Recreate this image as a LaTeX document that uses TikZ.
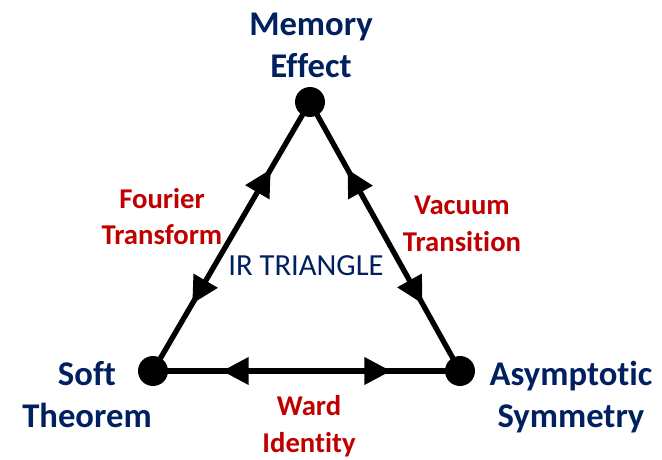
\documentclass[tikz,border=0pt]{standalone}
\usepackage{fontspec}
\setmainfont[Ligatures=NoCommon]{Carlito}
\usetikzlibrary{arrows.meta,decorations.markings}
\definecolor{navy}{HTML}{002060}
\definecolor{darkred}{HTML}{C00000}
\begin{document}
\begin{tikzpicture}[x=0.75pt,y=-0.75pt,
  vertexdot/.style={circle,fill=black,inner sep=0pt,minimum size=22.5pt},
  mainlabel/.style={font=\fontsize{26}{31.5}\selectfont\bfseries,text=navy,align=center,anchor=base,inner sep=0pt},
  edgelabel/.style={font=\fontsize{21.5}{27.75}\selectfont\bfseries,text=darkred,align=center,anchor=base,inner sep=0pt},
  titlelabel/.style={font=\fontsize{23}{27}\selectfont,text=navy,anchor=base,inner sep=0pt},
  twoway/.style={line width=4pt,postaction={decorate},decoration={markings,
     mark=at position #1 with {\arrowreversed{Triangle[length=20pt,width=20pt]}},
     mark=at position 1-#1 with {\arrow{Triangle[length=20pt,width=20pt]}}}},
  twoway/.default=0.25
]
\useasboundingbox (0,0) rectangle (662,460);
\coordinate (T) at (310,102);
\coordinate (L) at (153,371);
\coordinate (R) at (460,371);
\draw[twoway] (T) -- (L);
\draw[twoway] (T) -- (R);
\draw[twoway=0.225] (L) -- (R);
\node[vertexdot] (dT) at (T) {};
\node[vertexdot] (dL) at (L) {};
\node[vertexdot] (dR) at (R) {};
\node[mainlabel] (memory) at (311,78) {Memory\\Effect};
\node[mainlabel] (soft) at (87,427) {Soft\\Theorem};
\node[mainlabel] (asym) at (571,427) {Asymptotic\\Symmetry};
\node[edgelabel] (fourier) at (162,245) {Fourier\\Transform};
\node[edgelabel] (vacuum) at (462,252) {Vacuum\\Transition};
\node[edgelabel] (ward) at (309,452) {Ward\\Identity};
\node[titlelabel] (ir) at (306,276) {IR TRIANGLE};
\end{tikzpicture}
\end{document}
